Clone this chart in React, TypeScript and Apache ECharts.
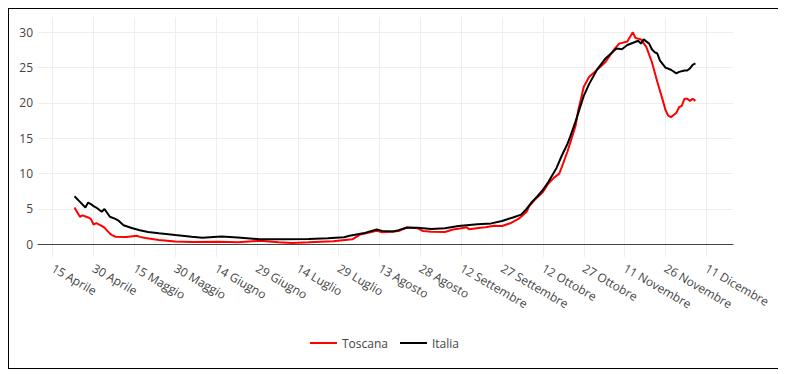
import React, { useEffect, useRef } from "react";
import * as echarts from "echarts";

const monthNames = ["Gennaio", "Febbraio", "Marzo", "Aprile", "Maggio", "Giugno", "Luglio", "Agosto", "Settembre", "Ottobre", "Novembre", "Dicembre"];

const year = 2020;

// x tick dates (every 15 days from 15 April)
const tickDates = ["04-15", "04-30", "05-15", "05-30", "06-14", "06-29", "07-14", "07-29", "08-13", "08-28", "09-12", "09-27", "10-12", "10-27", "11-11", "11-26", "12-11"];

const toscanaDates = ["04-23", "04-25", "04-26", "04-28", "04-29", "04-30", "05-01", "05-03", "05-04", "05-06", "05-07", "05-08", "05-12", "05-16", "05-17", "05-19", "05-24", "05-30", "06-05", "06-15", "06-22", "06-30", "07-07", "07-12", "07-18", "07-27", "08-03", "08-06", "08-12", "08-14", "08-17", "08-20", "08-23", "08-27", "08-29", "09-01", "09-06", "09-09", "09-12", "09-14", "09-15", "09-19", "09-21", "09-24", "09-27", "09-30", "10-03", "10-04", "10-06", "10-07", "10-09", "10-12", "10-14", "10-16", "10-18", "10-19", "10-21", "10-24", "10-25", "10-26", "10-27", "10-29", "10-31", "11-02", "11-04", "11-07", "11-09", "11-12", "11-14", "11-15", "11-17", "11-19", "11-21", "11-23", "11-25", "11-26", "11-27", "11-28", "11-29", "11-30", "12-01", "12-02", "12-03", "12-04", "12-05", "12-06", "12-07"];
const toscanaValues = [5.2, 3.9, 4.1, 3.8, 3.6, 2.8, 3.0, 2.6, 2.35, 1.5, 1.25, 1.07, 1.05, 1.2, 1.05, 0.88, 0.6, 0.38, 0.33, 0.37, 0.3, 0.5, 0.3, 0.2, 0.28, 0.42, 0.7, 1.4, 1.9, 1.7, 1.78, 1.88, 2.4, 2.26, 1.88, 1.78, 1.75, 2.1, 2.26, 2.4, 2.12, 2.35, 2.4, 2.63, 2.59, 2.97, 3.6, 3.9, 4.6, 5.4, 6.3, 7.4, 8.6, 9.4, 10.0, 11.0, 13.1, 16.8, 19.0, 20.6, 22.3, 23.7, 24.4, 25.1, 25.8, 27.5, 28.4, 28.7, 30.0, 29.2, 29.0, 27.9, 25.8, 23.0, 20.4, 19.0, 18.2, 18.0, 18.3, 18.6, 19.4, 19.6, 20.6, 20.6, 20.3, 20.6, 20.3];

const italiaDates = ["04-23", "04-25", "04-27", "04-28", "04-29", "04-30", "05-01", "05-03", "05-04", "05-06", "05-08", "05-09", "05-11", "05-14", "05-17", "05-20", "05-24", "05-30", "06-05", "06-09", "06-13", "06-16", "06-22", "06-30", "07-08", "07-18", "07-25", "07-31", "08-02", "08-07", "08-12", "08-14", "08-18", "08-20", "08-23", "08-27", "09-01", "09-06", "09-11", "09-18", "09-23", "09-27", "10-01", "10-04", "10-06", "10-08", "10-10", "10-12", "10-14", "10-17", "10-19", "10-21", "10-22", "10-24", "10-26", "10-27", "10-29", "11-01", "11-04", "11-08", "11-10", "11-12", "11-16", "11-17", "11-18", "11-20", "11-21", "11-22", "11-23", "11-24", "11-25", "11-26", "11-28", "11-30", "12-01", "12-03", "12-04", "12-05", "12-06", "12-07"];
const italiaValues = [6.8, 6.0, 5.2, 5.9, 5.7, 5.4, 5.2, 4.6, 5.0, 3.9, 3.6, 3.4, 2.7, 2.3, 2.0, 1.75, 1.55, 1.3, 1.07, 0.93, 1.05, 1.12, 0.95, 0.72, 0.72, 0.75, 0.85, 1.0, 1.2, 1.55, 2.1, 1.9, 1.8, 2.0, 2.35, 2.35, 2.17, 2.26, 2.59, 2.83, 2.96, 3.3, 3.8, 4.2, 5.0, 6.0, 6.8, 7.7, 8.8, 10.8, 12.6, 14.2, 15.2, 17.4, 19.8, 21.0, 22.7, 24.8, 26.3, 27.7, 27.6, 28.2, 28.8, 28.4, 29.0, 28.4, 27.6, 27.2, 27.0, 26.0, 25.5, 25.0, 24.7, 24.2, 24.4, 24.6, 24.6, 24.9, 25.4, 25.6];

const DAY = 86400000;
const toTs = (md: string) => {
  const [m, d] = md.split("-").map(Number);
  return Date.UTC(year, m - 1, d);
};
const xMin = toTs("04-15") - 5.4 * DAY;
const xMax = toTs("04-15") + 249.8 * DAY;

const fmtDate = (v: number) => {
  const dt = new Date(v);
  return `${dt.getUTCDate()} ${monthNames[dt.getUTCMonth()]}`;
};

const FONT = "'Open Sans', 'DejaVu Sans', sans-serif";

export default function App() {
  const ref = useRef<HTMLDivElement>(null);
  useEffect(() => {
    if (!ref.current) return;
    const chart = echarts.init(ref.current, null, { renderer: "svg" });
    const ticks = tickDates.map(toTs);
    chart.setOption({
      animation: false,
      textStyle: { fontFamily: FONT },
      legend: {
        data: ["Toscana", "Italia"],
        left: 296,
        top: 323,
        icon: "rect",
        itemWidth: 27,
        itemHeight: 2,
        itemGap: 12,
        textStyle: { color: "#444", fontSize: 12, fontFamily: FONT },
      },
      grid: [
        { left: 29, right: 45, top: 8, bottom: 111 },
        { left: 29, right: 45, top: 23.3, bottom: 123.7 },
      ],
      xAxis: [
        {
          type: "value",
          gridIndex: 0,
          min: xMin,
          max: xMax,
          axisLine: { show: false },
          axisTick: { show: false, customValues: ticks },
          splitLine: { show: true, lineStyle: { color: "#eeeeee", width: 1 } },
          axisLabel: {
            customValues: ticks,
            rotate: -30,
            margin: 10,
            color: "#444",
            fontSize: 12,
            fontFamily: FONT,
            formatter: (v: number) => fmtDate(v),
          },
        },
        {
          type: "value",
          gridIndex: 1,
          min: xMin,
          max: xMax,
          axisLine: { show: true, onZero: false, lineStyle: { color: "#444", width: 1 } },
          axisTick: { show: false },
          axisLabel: { show: false },
          splitLine: { show: false },
        },
      ],
      yAxis: [
        { type: "value", gridIndex: 0, min: 0, max: 1, show: false },
        {
          type: "value",
          gridIndex: 1,
          min: 0,
          max: 30,
          interval: 5,
          axisLine: { show: false },
          axisTick: { show: false },
          axisLabel: {
            color: "#444",
            fontSize: 12,
            margin: 5,
            fontFamily: FONT,
          },
          splitLine: { show: true, lineStyle: { color: "#eeeeee", width: 1 } },
        },
      ],
      series: [
        {
          name: "Toscana",
          type: "line",
          xAxisIndex: 1,
          yAxisIndex: 1,
          symbol: "none",
          color: "#ff0000",
          lineStyle: { width: 2, color: "#ff0000" },
          data: toscanaDates.map((d, i) => [toTs(d), toscanaValues[i]]),
        },
        {
          name: "Italia",
          type: "line",
          xAxisIndex: 1,
          yAxisIndex: 1,
          symbol: "none",
          color: "#000000",
          lineStyle: { width: 2, color: "#000000" },
          data: italiaDates.map((d, i) => [toTs(d), italiaValues[i]]),
        },
      ],
    });
    return () => chart.dispose();
  }, []);
  return (
    <div style={{ width: 769, height: 359, border: "1px solid #000" }}>
      <div ref={ref} style={{ width: 769, height: 359 }} />
    </div>
  );
}
